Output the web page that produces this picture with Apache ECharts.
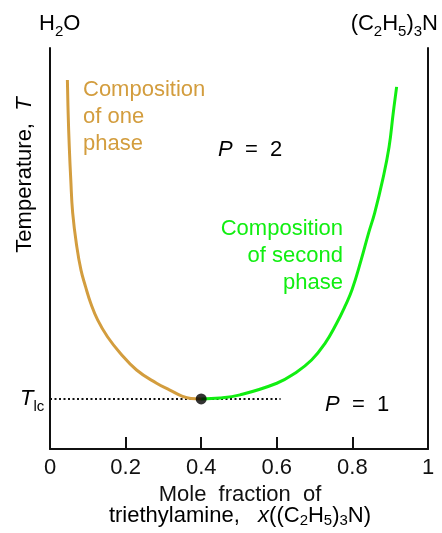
<!DOCTYPE html>
<html lang="en" style="height: 100%">
<head>
    <meta charset="utf-8">
</head>
<body style="height: 100%; margin: 0; background: #fff">
<div id="container" style="height: 100%"></div>

<script type="text/javascript" src="https://cdn.jsdelivr.net/npm/echarts@6/dist/echarts.min.js"></script>

<script type="text/javascript">
    var dom = document.getElementById('container');
    var myChart = echarts.init(dom, null, { renderer: 'canvas' });

    // phase boundary, x = mole fraction of triethylamine, y = temperature (arbitrary units)
    const onePhase = [
        [0.046, 92.0], [0.048, 83.8], [0.051, 75.4], [0.055, 67.1], [0.060, 58.9],
        [0.071, 50.4], [0.082, 44.6], [0.094, 40.5], [0.108, 36.3], [0.126, 32.2],
        [0.152, 28.0], [0.186, 23.9], [0.229, 19.7], [0.282, 16.4], [0.317, 14.7],
        [0.349, 13.2], [0.373, 12.6], [0.400, 12.5]
    ];
    const secondPhase = [
        [0.400, 12.5], [0.450, 12.7], [0.503, 13.5], [0.600, 16.4], [0.648, 18.9],
        [0.692, 22.2], [0.728, 26.4], [0.758, 31.3], [0.780, 35.5], [0.799, 39.7],
        [0.823, 47.1], [0.843, 53.9], [0.859, 58.9], [0.880, 67.1], [0.897, 75.3],
        [0.908, 83.8], [0.917, 90.3]
    ];
    const criticalPoint = [0.400, 12.5];
    const tieLine = [[0, 12.5], [0.61, 12.5]];
    const xTicks = [0, 0.2, 0.4, 0.6, 0.8, 1];

    const FONT = '"Liberation Sans", Arial, sans-serif';
    const ORANGE = '#d39d3e';
    const GREEN = '#11ee11';
    const INK = '#111';

    const sub = { fontSize: 15, fontFamily: FONT, color: INK, verticalAlign: 'bottom', lineHeight: 30 };
    const big = { fontSize: 22, fontFamily: FONT, color: INK, lineHeight: 30 };
    const ital = { fontSize: 22, fontFamily: FONT, color: INK, fontStyle: 'italic', lineHeight: 30 };
    function tight(s, lh) { return Object.assign({}, s, { lineHeight: lh }); }

    var option = {
        animation: false,
        grid: { left: 50, right: 14, top: 48, bottom: 84 },
        xAxis: {
            type: 'value',
            min: 0,
            max: 1,
            interval: 0.2,
            axisLine: { lineStyle: { color: INK, width: 2 } },
            axisTick: { inside: true, length: 12, lineStyle: { color: INK, width: 2 } },
            splitLine: { show: false },
            axisLabel: {
                margin: 8,
                fontSize: 22,
                fontFamily: FONT,
                color: INK,
                formatter: function (v) {
                    return xTicks.indexOf(+v.toFixed(1)) >= 0 ? String(+v.toFixed(1)) : '';
                }
            }
        },
        yAxis: [
            {
                type: 'value',
                min: 0,
                max: 100,
                axisLine: { show: true, lineStyle: { color: INK, width: 2 } },
                axisTick: { show: false },
                axisLabel: { show: false },
                splitLine: { show: false }
            },
            {
                type: 'value',
                position: 'right',
                min: 0,
                max: 100,
                axisLine: { show: true, lineStyle: { color: INK, width: 2 } },
                axisTick: { show: false },
                axisLabel: { show: false },
                splitLine: { show: false }
            }
        ],
        graphic: [
            {
                type: 'text', left: 39, top: 13,
                style: { text: '{a|H}{s|2}{a|O}', rich: { a: big, s: sub } }
            },
            {
                type: 'text', right: 4, top: 13,
                style: { text: '{a|(C}{s|2}{a|H}{s|5}{a|)}{s|3}{a|N}', rich: { a: big, s: sub } }
            },
            {
                type: 'text', left: 83, top: 76,
                style: {
                    text: 'Composition\nof one\nphase',
                    fontSize: 22, fontFamily: FONT, fill: ORANGE, lineHeight: 27
                }
            },
            {
                type: 'text', left: 218, top: 139,
                style: { text: '{i|P}{a|  =  2}', rich: { a: big, i: ital } }
            },
            {
                type: 'text', x: 343, y: 215,
                style: {
                    text: 'Composition\nof second\nphase',
                    align: 'right', verticalAlign: 'top',
                    fontSize: 22, fontFamily: FONT, fill: GREEN, lineHeight: 27
                }
            },
            {
                type: 'text', left: 325, top: 394,
                style: { text: '{i|P}{a|  =  1}', rich: { a: big, i: ital } }
            },
            {
                type: 'text', left: 20, top: 388,
                style: { text: '{i|T}{s|lc}', rich: { i: ital, s: sub } }
            },
            {
                type: 'text', x: 25, y: 175, rotation: Math.PI / 2,
                style: {
                    text: '{a|Temperature,  }{i|T}',
                    align: 'center', verticalAlign: 'middle',
                    rich: { a: tight(big, 26), i: tight(ital, 26) }
                }
            },
            {
                type: 'text', x: 240, y: 495,
                style: {
                    text: 'Mole  fraction  of',
                    align: 'center', verticalAlign: 'middle',
                    fontSize: 22, fontFamily: FONT, fill: INK
                }
            },
            {
                type: 'text', x: 240, y: 516,
                style: {
                    text: '{a|triethylamine,   }{i|x}{a|((C}{s|2}{a|H}{s|5}{a|)}{s|3}{a|N)}',
                    align: 'center', verticalAlign: 'middle',
                    rich: { a: tight(big, 24), i: tight(ital, 24), s: tight(sub, 24) }
                }
            }
        ],
        series: [
            {
                type: 'line',
                data: tieLine,
                symbol: 'none',
                lineStyle: { color: INK, width: 2, type: [2, 2.5] },
                z: 1
            },
            {
                type: 'line',
                data: onePhase,
                smooth: 0.45,
                symbol: 'none',
                lineStyle: { color: ORANGE, width: 3 },
                z: 2
            },
            {
                type: 'line',
                data: secondPhase,
                smooth: 0.45,
                symbol: 'none',
                lineStyle: { color: GREEN, width: 3 },
                z: 2
            },
            {
                type: 'scatter',
                data: [criticalPoint],
                symbolSize: 11,
                itemStyle: { color: '#000' },
                z: 3
            }
        ]
    };

    myChart.setOption(option);

    window.addEventListener('resize', myChart.resize);
</script>
</body>
</html>
